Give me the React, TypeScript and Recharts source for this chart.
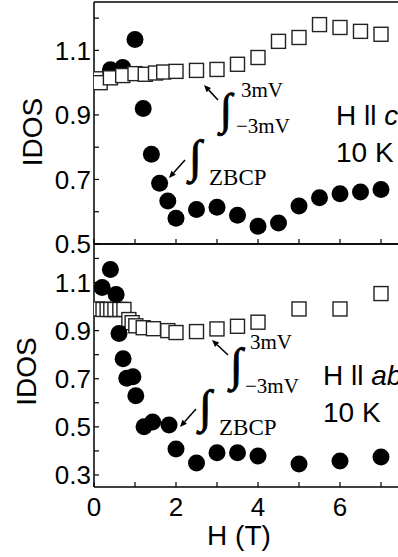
import React from 'react';
import { ScatterChart, Scatter, XAxis, YAxis, ReferenceLine } from 'recharts';

// ---- axis ticks ----
const xTicks = [0, 1, 2, 3, 4, 5, 6, 7, 8];
const xLabels = [0, 2, 4, 6];
const topYTicks = [0.5, 0.6, 0.7, 0.8, 0.9, 1.0, 1.1, 1.2];
const topYLabels = [0.5, 0.7, 0.9, 1.1];
const botYTicks = [0.3, 0.4, 0.5, 0.6, 0.7, 0.8, 0.9, 1.0, 1.1, 1.2];
const botYLabels = [0.3, 0.5, 0.7, 0.9, 1.1];

// ---- H || c, 10 K ----
const cZbcpH = [0.4, 0.7, 1.0, 1.2, 1.4, 1.6, 1.8, 2.0, 2.5, 3.0, 3.5, 4.0, 4.5, 5.0, 5.5, 6.0, 6.5, 7.0];
const cZbcp = [1.04, 1.047, 1.134, 0.92, 0.778, 0.688, 0.633, 0.58, 0.607, 0.614, 0.589, 0.555, 0.565, 0.618, 0.643, 0.656, 0.661, 0.669];
const cIntH = [0.05, 0.15, 0.4, 0.7, 1.0, 1.25, 1.5, 1.7, 2.0, 2.5, 3.0, 3.5, 4.0, 4.5, 5.0, 5.5, 6.0, 6.5, 7.0];
const cInt = [1.012, 1.0, 1.015, 1.022, 1.028, 1.026, 1.03, 1.033, 1.035, 1.038, 1.041, 1.057, 1.078, 1.128, 1.14, 1.18, 1.171, 1.159, 1.15];

// ---- H || ab, 10 K ----
const abZbcpH = [0.2, 0.4, 0.54, 0.61, 0.71, 0.8, 0.95, 1.02, 1.22, 1.43, 1.83, 2.0, 2.5, 3.0, 3.5, 4.0, 5.0, 6.0, 7.0];
const abZbcp = [1.079, 1.154, 1.05, 0.888, 0.783, 0.702, 0.708, 0.629, 0.5, 0.52, 0.508, 0.408, 0.35, 0.392, 0.392, 0.379, 0.346, 0.358, 0.375];
const abIntH = [0.08, 0.22, 0.32, 0.41, 0.51, 0.63, 0.73, 0.85, 0.93, 1.02, 1.2, 1.45, 1.8, 2.0, 2.5, 3.0, 3.5, 4.0, 5.0, 6.0, 7.0];
const abInt = [0.99, 0.988, 0.988, 0.988, 0.988, 0.988, 0.988, 0.946, 0.933, 0.92, 0.912, 0.908, 0.9, 0.892, 0.896, 0.907, 0.918, 0.935, 0.99, 0.99, 1.054];

const zip = (xs: number[], ys: number[]) => xs.map((x, i) => ({ x, y: ys[i] }));

const SANS = '"Liberation Sans", Arial, Helvetica, sans-serif';
const SERIF = '"Liberation Serif", "Times New Roman", serif';

const Dot = (p: any) => <circle cx={p.cx} cy={p.cy} r={8.5} fill="#000" />;
const Box = (p: any) => (
  <rect x={p.cx - 7} y={p.cy - 7} width={14} height={14} fill="#fff" stroke="#222" strokeWidth={1.4} />
);

const fmt = (labels: number[], digits: number) => (v: number) =>
  labels.some((l) => Math.abs(l - v) < 1e-6) ? v.toFixed(digits) : '';

const tickStyle = { fill: '#000', fontSize: 26, fontFamily: SANS };
const axisLine = { stroke: '#000', strokeWidth: 1.5 };
const tickLine = { stroke: '#000', strokeWidth: 1.2 };

const Arrow = ({ x1, y1, x2, y2 }: { x1: number; y1: number; x2: number; y2: number }) => {
  const a = Math.atan2(y2 - y1, x2 - x1);
  const L = 7;
  const w = 3;
  const bx = x2 - L * Math.cos(a);
  const by = y2 - L * Math.sin(a);
  const px = -Math.sin(a) * w;
  const py = Math.cos(a) * w;
  return (
    <g>
      <line x1={x1} y1={y1} x2={bx} y2={by} stroke="#000" strokeWidth={1.5} />
      <polygon points={`${x2},${y2} ${bx + px},${by + py} ${bx - px},${by - py}`} fill="#000" />
    </g>
  );
};

const intStyle = { stroke: '#000', strokeWidth: 0.9 };

export default function App() {
  return (
    <div style={{ position: 'absolute', left: 0, top: 0, width: 398, height: 557, overflow: 'hidden', background: '#fff' }}>
      <div style={{ position: 'absolute', left: 0, top: 0 }}>
        <ScatterChart width={430} height={266} margin={{ top: 2, right: 8, bottom: 2, left: 0 }}>
          <XAxis
            type="number"
            dataKey="x"
            domain={[0, 8]}
            ticks={xTicks}
            interval={0}
            allowDataOverflow
            height={20}
            tickSize={-5}
            tickFormatter={() => ''}
            axisLine={axisLine}
            tickLine={tickLine}
          />
          <YAxis
            type="number"
            dataKey="y"
            domain={[0.5, 1.25]}
            ticks={topYTicks}
            interval={0}
            allowDataOverflow
            width={94}
            tickSize={-5}
            tickMargin={8}
            tickFormatter={fmt(topYLabels, 1)}
            tick={tickStyle}
            axisLine={axisLine}
            tickLine={tickLine}
            label={{ value: 'IDOS', angle: -90, position: 'center', dx: -15, dy: 9, style: { fill: '#000', fontSize: 28, fontFamily: SANS } }}
          />
          <ReferenceLine y={1.25} stroke="#000" strokeWidth={1.5} />
          <Scatter data={zip(cZbcpH, cZbcp)} shape={Dot} isAnimationActive={false} />
          <Scatter data={zip(cIntH, cInt)} shape={Box} isAnimationActive={false} />
        </ScatterChart>
      </div>
      <div style={{ position: 'absolute', left: 0, top: 240 }}>
        <ScatterChart width={430} height={317} margin={{ top: 4, right: 8, bottom: 0, left: 0 }}>
          <XAxis
            type="number"
            dataKey="x"
            domain={[0, 8]}
            ticks={xTicks}
            interval={0}
            allowDataOverflow
            height={70}
            tickSize={-5}
            tickMargin={16}
            tickFormatter={fmt(xLabels, 0)}
            tick={tickStyle}
            axisLine={axisLine}
            tickLine={tickLine}
            label={{ value: 'H (T)', position: 'insideBottom', offset: 12, dx: -19, style: { fill: '#000', fontSize: 28, fontFamily: SANS } }}
          />
          <YAxis
            type="number"
            dataKey="y"
            domain={[0.25, 1.26]}
            ticks={botYTicks}
            interval={0}
            allowDataOverflow
            width={94}
            tickSize={-5}
            tickMargin={8}
            tickFormatter={fmt(botYLabels, 1)}
            tick={tickStyle}
            axisLine={axisLine}
            tickLine={tickLine}
            label={{ value: 'IDOS', angle: -90, position: 'center', dx: -21, dy: 6, style: { fill: '#000', fontSize: 28, fontFamily: SANS } }}
          />
          <ReferenceLine y={1.26} stroke="#000" strokeWidth={1.5} />
          <Scatter data={zip(abIntH, abInt)} shape={Box} isAnimationActive={false} />
          <Scatter data={zip(abZbcpH, abZbcp)} shape={Dot} isAnimationActive={false} />
        </ScatterChart>
      </div>
      <svg width={398} height={557} style={{ position: 'absolute', left: 0, top: 0, pointerEvents: 'none' }}>
        {/* top panel annotations */}
        <Arrow x1={218} y1={100} x2={204} y2={85} />
        <text x={220} y={124} fontFamily={SERIF} fontSize={44} {...intStyle}>∫</text>
        <text x={241} y={97} fontFamily={SERIF} fontSize={21}>3mV</text>
        <text x={236} y={133} fontFamily={SERIF} fontSize={21}>−3mV</text>
        <Arrow x1={185} y1={160} x2={169} y2={178} />
        <text x={189} y={172} fontFamily={SERIF} fontSize={46} {...intStyle}>∫</text>
        <text x={209} y={185} fontFamily={SERIF} fontSize={23}>ZBCP</text>
        <text x={336} y={125} fontFamily={SANS} fontSize={28}>
          H ll <tspan fontStyle="italic">c</tspan>
        </text>
        <text x={336} y={162} fontFamily={SANS} fontSize={28}>10 K</text>
        {/* bottom panel annotations */}
        <Arrow x1={228} y1={355} x2={212} y2={340} />
        <text x={230} y={380} fontFamily={SERIF} fontSize={46} {...intStyle}>∫</text>
        <text x={250} y={349} fontFamily={SERIF} fontSize={21}>3mV</text>
        <text x={245} y={393} fontFamily={SERIF} fontSize={21}>−3mV</text>
        <Arrow x1={196} y1={409} x2={180} y2={427} />
        <text x={199} y={422} fontFamily={SERIF} fontSize={46} {...intStyle}>∫</text>
        <text x={219} y={435} fontFamily={SERIF} fontSize={23}>ZBCP</text>
        <text x={323} y={385} fontFamily={SANS} fontSize={28}>
          H ll <tspan fontStyle="italic">ab</tspan>
        </text>
        <text x={323} y={422} fontFamily={SANS} fontSize={28}>10 K</text>
      </svg>
    </div>
  );
}
